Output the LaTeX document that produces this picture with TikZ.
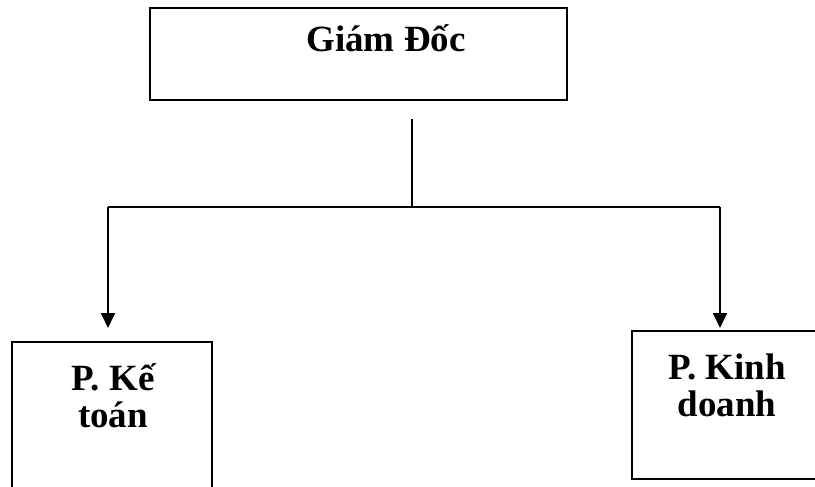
\documentclass[tikz,border=0pt]{standalone}
\usepackage{fontspec}
\setmainfont{Liberation Serif}
\usepackage{tikz}
\usetikzlibrary{arrows.meta,positioning,calc}

\begin{document}
\begin{tikzpicture}[x=1pt,y=-1pt,
  box/.style={draw, line width=1.8pt, inner sep=0pt},
  lbl/.style={font=\fontsize{37}{37}\selectfont\bfseries, align=center, inner sep=0pt, anchor=base},
  conn/.style={line width=1.8pt},
  arr/.style={conn, -{Triangle[length=15pt,width=14pt]}}]
\useasboundingbox (0,0) rectangle (815,487);
% Boxes
\node[box, minimum width=417pt, minimum height=92pt] (gd) at (358.5,54) {};
\node[box, minimum width=200pt, minimum height=158pt] (kt) at (112,421) {};
\node[box, minimum width=190pt, minimum height=148pt] (kd) at (727,405) {};
% Labels
\node[lbl] (gdtxt) at (386,52) {Giám Đốc};
\node[lbl] (kttxt) at (113,427) {P. Kế\\toán};
\node[lbl] (kdtxt) at (727,416) {P. Kinh\\doanh};
% Tree lines
\coordinate (top) at (412,119);
\coordinate (mid) at (412,207);
\coordinate (hl) at (108,207);
\coordinate (hr) at (720,207);
\coordinate (el) at (108,328);
\coordinate (er) at (720,328);
\draw[conn] (top) -- (mid);
\draw[conn] (hl) -- (hr);
\foreach \s/\e in {hl/el,hr/er} {
  \draw[arr] (\s) -- (\e);
}
\end{tikzpicture}
\end{document}
